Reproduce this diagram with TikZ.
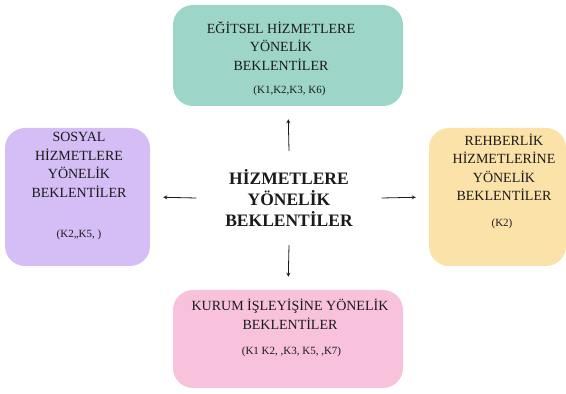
\documentclass[tikz,border=0pt]{standalone}
\usepackage{fontspec}
\setmainfont{Liberation Serif}
\usepackage{xcolor}
\usetikzlibrary{arrows,positioning}

\definecolor{egitselcol}{HTML}{9DD6C8}
\definecolor{sosyalcol}{HTML}{D4BEF5}
\definecolor{rehbercol}{HTML}{FBE2A8}
\definecolor{kurumcol}{HTML}{F8C2DD}
\definecolor{textcol}{HTML}{1A1A1A}

\begin{document}
\begin{tikzpicture}[
    x=1pt, y=1pt,
    box/.style={rectangle, draw=none, rounded corners=20pt},
    title/.style={text=textcol, align=center, inner sep=0pt, font=\fontsize{14}{18.5}\selectfont},
    code/.style={text=textcol, inner sep=0pt, font=\fontsize{11}{13}\selectfont},
    center/.style={text=textcol, align=center, inner sep=0pt, font=\fontsize{17.5}{21}\selectfont\bfseries, minimum width=185pt, minimum height=94pt},
    arrow/.style={->,>=stealth, thick, textcol, shorten >=13pt}
]
    \useasboundingbox (0,0) rectangle (566,394);

    % Center
    \node[center] (merkez) at (289,196) {HİZMETLERE\\YÖNELİK\\BEKLENTİLER};

    % Boxes
    \node[box, fill=egitselcol, minimum width=230pt, minimum height=101pt] (egitsel) at (288,338.5) {};
    \node[box, fill=sosyalcol, minimum width=145pt, minimum height=138pt] (sosyal) at (77.5,197) {};
    \node[box, fill=rehbercol, minimum width=137pt, minimum height=138pt] (rehber) at (497.5,197) {};
    \node[box, fill=kurumcol, minimum width=230pt, minimum height=98pt] (kurum) at (288,55) {};

    % Texts
    \node[title] (egitselT) at (281,348) {EĞİTSEL HİZMETLERE\\YÖNELİK\\BEKLENTİLER};
    \node[code] (egitselK) at (289.5,303) {(K1,K2,K3, K6)};
    \node[title] (sosyalT) at (79,229) {SOSYAL\\HİZMETLERE\\YÖNELİK\\BEKLENTİLER};
    \node[code] (sosyalK) at (79,159) {(K2,,K5, )};
    \node[title] (rehberT) at (504,227) {REHBERLİK\\HİZMETLERİNE\\YÖNELİK\\BEKLENTİLER};
    \node[code] (rehberK) at (502,170) {(K2)};
    \node[title] (kurumT) at (290,80) {KURUM İŞLEYİŞİNE YÖNELİK\\BEKLENTİLER};
    \node[code] (kurumK) at (291.5,42) {(K1 K2, ,K3, K5, ,K7)};

    % Arrows
    \draw[arrow] (merkez.north) -- (egitsel.south);
    \draw[arrow] (merkez.west) -- (sosyal.east);
    \draw[arrow] (merkez.east) -- (rehber.west);
    \draw[arrow] (merkez.south) -- (kurum.north);

\end{tikzpicture}
\end{document}
